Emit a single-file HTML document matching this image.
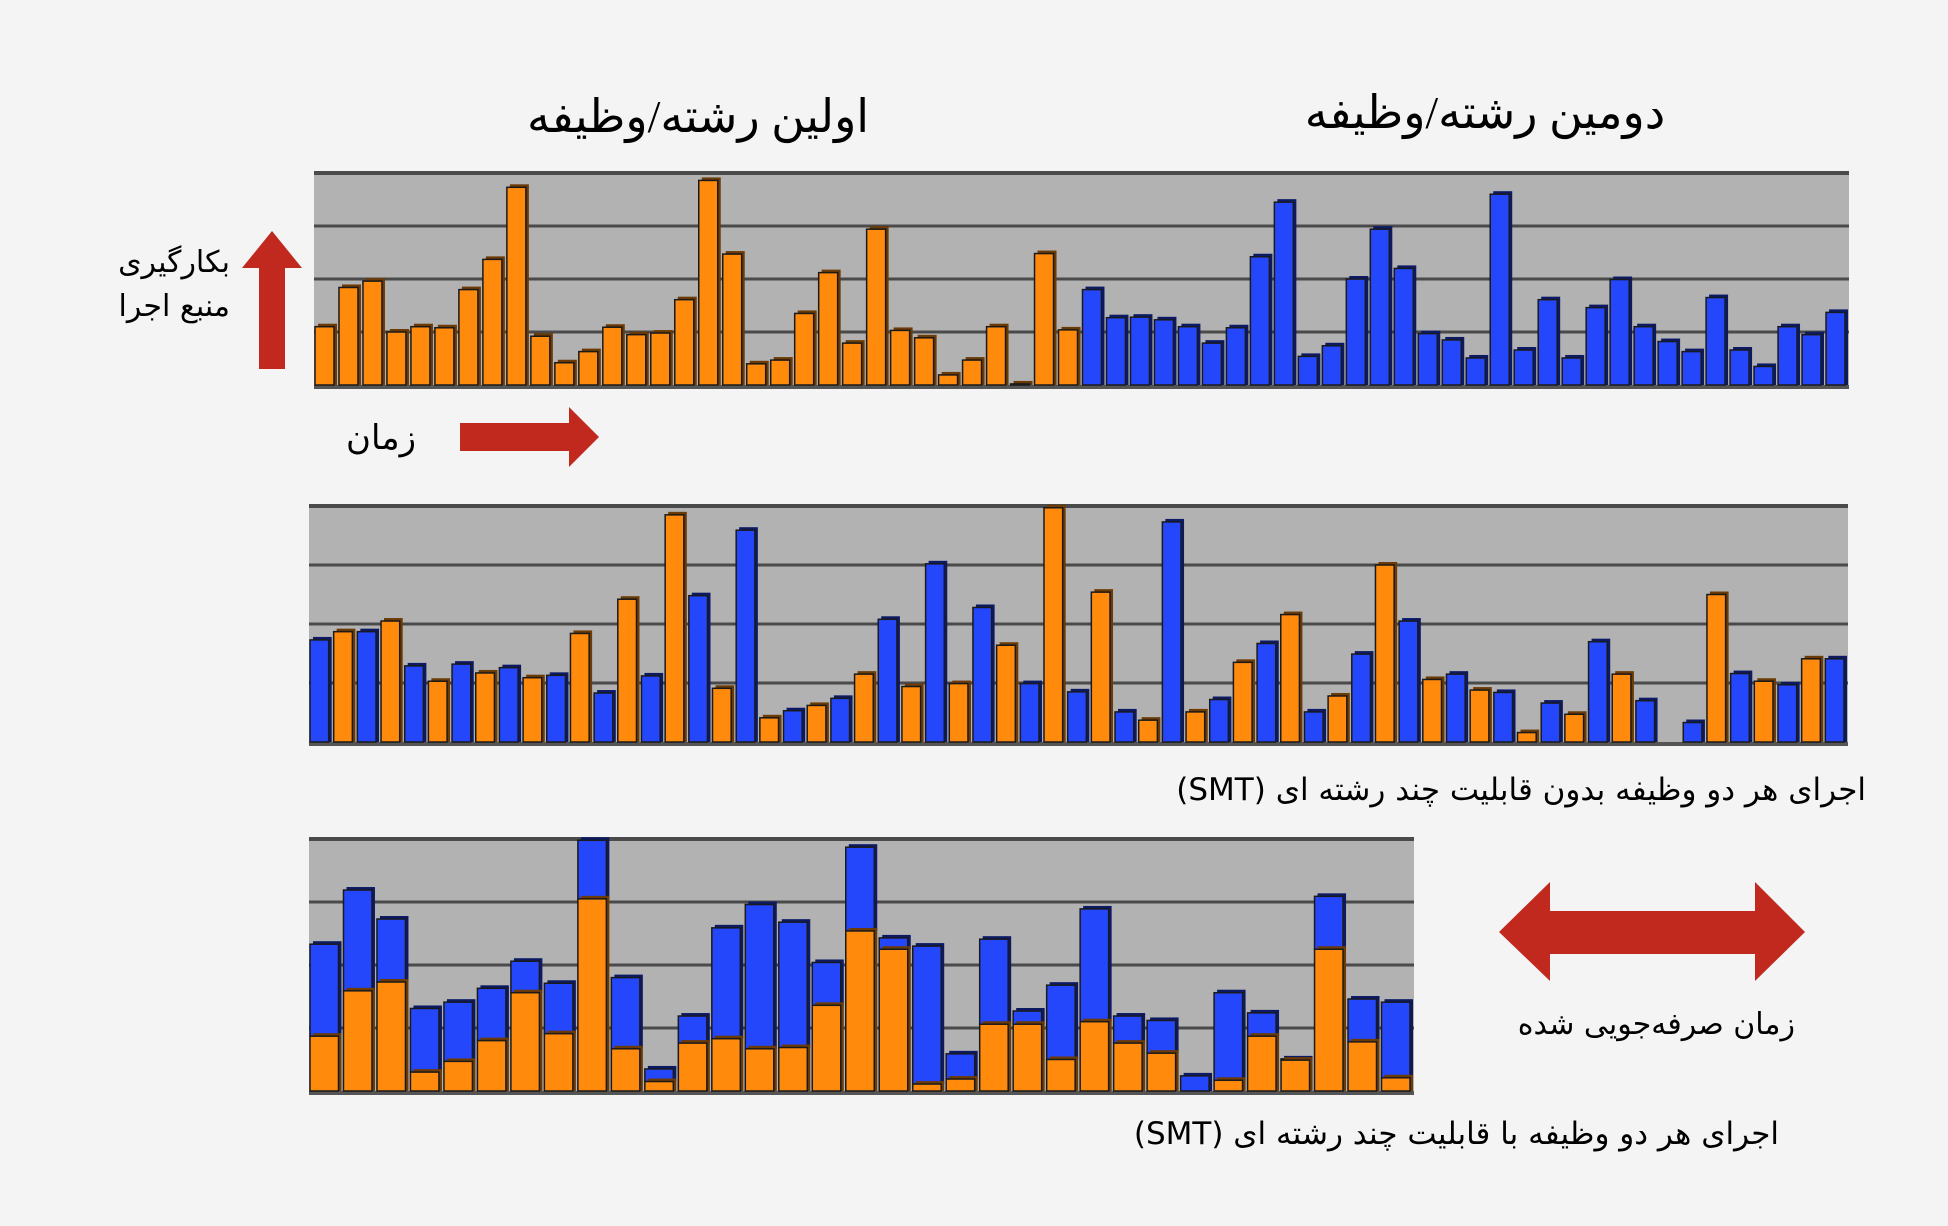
<!DOCTYPE html>
<html><head><meta charset="utf-8">
<style>
html,body{margin:0;padding:0;background:#f4f4f4;}
svg{display:block;}
text{font-family:"Liberation Serif","DejaVu Sans","Noto Sans CJK SC",serif;fill:#000;}
.sans{font-family:"DejaVu Sans","Liberation Sans",sans-serif;}
</style></head>
<body>
<svg id="fig" width="1948" height="1226" viewBox="0 0 1948 1226" xmlns="http://www.w3.org/2000/svg">
<rect width="1948" height="1226" fill="#f4f4f4"/>
<text x="698" y="132" font-size="46" text-anchor="middle" direction="rtl">اولین رشته/وظیفه</text>
<text x="1485" y="128" font-size="46" text-anchor="middle" direction="rtl">دومین رشته/وظیفه</text>
<text x="230" y="272" font-size="30" text-anchor="start" direction="rtl" class="sans">بکارگیری</text>
<text x="230" y="316" font-size="30" text-anchor="start" direction="rtl" class="sans">منبع اجرا</text>
<polygon points="272,231 302,268 285,268 285,369 259,369 259,268 242,268" fill="#c1291f"/>
<text x="416" y="449" font-size="34" text-anchor="start" direction="rtl">زمان</text>
<polygon points="460,423 569,423 569,407 599,437 569,467 569,451 460,451" fill="#c1291f"/>
<g id="c1"></g>
<g id="c2"></g>
<g id="c3"></g>
<text x="1866" y="800" font-size="31" text-anchor="start" direction="rtl" class="sans">اجرای هر دو وظیفه بدون قابلیت چند رشته ای (SMT)</text>
<text x="1779" y="1144" font-size="31" text-anchor="start" direction="rtl" class="sans">اجرای هر دو وظیفه با  قابلیت چند رشته ای  (SMT)</text>
<polygon points="1499,932 1550,882 1550,911 1755,911 1755,882 1805,932 1755,981 1755,954 1550,954 1550,981" fill="#c1291f"/>
<text x="1795" y="1034" font-size="30" text-anchor="start" direction="rtl" class="sans">زمان صرفه‌جویی شده</text>
</svg>
<script>
// Chart 1: sequential threads (values in grid units, 0-4)
const c1Orange = [1.1,1.84,1.96,1.0,1.1,1.08,1.8,2.37,3.73,0.92,0.42,0.63,1.09,0.95,0.98,1.61,3.86,2.47,0.4,0.47,1.35,2.12,0.79,2.94,1.03,0.89,0.19,0.47,1.1,0.02,2.48,1.04];
const c1Blue = [1.8,1.27,1.28,1.23,1.1,0.79,1.08,2.42,3.45,0.54,0.74,2.0,2.94,2.2,0.97,0.85,0.51,3.6,0.66,1.61,0.51,1.46,1.99,1.1,0.82,0.63,1.65,0.66,0.35,1.1,0.95,1.37];
// Chart 2: interleaved without SMT; series code o=orange b=blue
const c2Series = ['b','o','b','o','b','o','b','o','b','o','b','o','b','o','b','o','b','o','b','o','b','o','b','o','b','o','b','o','b','o','b','o','b','o','b','o','b','o','b','o','b','o','b','o','b','o','b','o','b','o','b','o','b','o','b','o','b','o','b','o','b','o','b','o','b'];
const c2Values = [1.73,1.87,1.87,2.05,1.29,1.03,1.32,1.17,1.26,1.09,1.13,1.84,0.83,2.42,1.12,3.85,2.48,0.91,3.59,0.41,0.53,0.62,0.74,1.15,2.08,0.94,3.02,0.99,2.28,1.64,0.99,3.97,0.85,2.54,0.51,0.37,3.73,0.51,0.72,1.35,1.67,2.16,0.51,0.78,1.49,3.0,2.05,1.06,1.15,0.88,0.84,0.16,0.66,0.47,1.7,1.15,0.7,0,0.33,2.5,1.16,1.03,0.97,1.41,1.41];
// Chart 3: stacked with SMT
const c3Orange = [0.87,1.59,1.73,0.3,0.47,0.8,1.56,0.91,3.05,0.67,0.15,0.76,0.83,0.67,0.69,1.36,2.54,2.25,0.11,0.19,1.06,1.06,0.5,1.1,0.76,0.6,0,0.17,0.87,0.49,2.25,0.78,0.21];
const c3Blue = [1.46,1.6,1.0,1.01,0.94,0.83,0.5,0.8,0.93,1.13,0.2,0.43,1.76,2.29,1.99,0.68,1.33,0.18,2.19,0.4,1.35,0.21,1.18,1.79,0.43,0.52,0.24,1.39,0.37,0.02,0.84,0.68,1.2];

const NS='http://www.w3.org/2000/svg';
const ORANGE='#ff8a0c', BLUE='#2447fb', ODARK='#6b3a05', BDARK='#0c1a66';
function mk(parent, tag, attrs){const e=document.createElementNS(NS,tag);for(const k in attrs)e.setAttribute(k,attrs[k]);parent.appendChild(e);return e;}
function frame(g,x0,x1,top,base,unit){
  const r=mk(g,'rect',{x:x0,y:top,width:x1-x0,height:base-top+3,fill:'#b2b2b2'});
  
  
  for(let k=1;k<=4;k++){
    const y=base-unit*k;
    const l=mk(g,'line',{x1:x0,x2:x1,y1:y,y2:y,stroke:'#4a4a4a','stroke-width':k===4?4:3});
    
    
  }
  const b=mk(g,'line',{x1:x0,x2:x1,y1:base+2,y2:base+2,stroke:'#555','stroke-width':4});
  
  
}
function bar(g,x,w,yTop,yBot,fill,dark,name){
  if(yBot-yTop<0.5) return;
  const s=mk(g,'rect',{x:x+3,y:yTop-3,width:w,height:yBot-yTop+3,fill:dark});
  
  
  const r=mk(g,'rect',{x:x,y:yTop,width:w,height:yBot-yTop,fill:fill,stroke:'#1a1a1a','stroke-width':1.5});
  
  
}
// chart 1
(function(){
  const g=document.getElementById('c1'); const x0=314,x1=1849,base=385,unit=53;
  frame(g,x0,x1,base-unit*4,base,unit);
  const all=c1Orange.map(v=>['o',v]).concat(c1Blue.map(v=>['b',v]));
  const sw=(x1-x0)/all.length;
  const xs=i=>x0+i*sw, ys=v=>base-v*unit;
  all.forEach((d,i)=>{const o=d[0]==='o';bar(g,xs(i)+1,sw-5,ys(d[1]),base,o?ORANGE:BLUE,o?ODARK:BDARK,o?'bar-thread1':'bar-thread2');});
})();
// chart 2
(function(){
  const g=document.getElementById('c2'); const x0=309,x1=1848,base=742,unit=59;
  frame(g,x0,x1,base-unit*4,base,unit);
  const sw=(x1-x0)/c2Values.length;
  const xs=i=>x0+i*sw, ys=v=>base-v*unit;
  c2Values.forEach((v,i)=>{const o=c2Series[i]==='o';bar(g,xs(i)+1,sw-5,ys(v),base,o?ORANGE:BLUE,o?ODARK:BDARK,o?'bar-thread1':'bar-thread2');});
})();
// chart 3
(function(){
  const g=document.getElementById('c3'); const x0=309,x1=1414,base=1091,unit=63;
  frame(g,x0,x1,base-unit*4,base,unit);
  const sw=(x1-x0)/c3Orange.length;
  const xs=i=>x0+i*sw, ys=v=>base-v*unit;
  c3Orange.forEach((v,i)=>{
    const t=v+c3Blue[i];
    bar(g,xs(i)+1,sw-5,ys(t),ys(v),BLUE,BDARK,'bar-thread2-stack');
    bar(g,xs(i)+1,sw-5,ys(v),base,ORANGE,ODARK,'bar-thread1-stack');
  });
})();
</script>
</body></html>
